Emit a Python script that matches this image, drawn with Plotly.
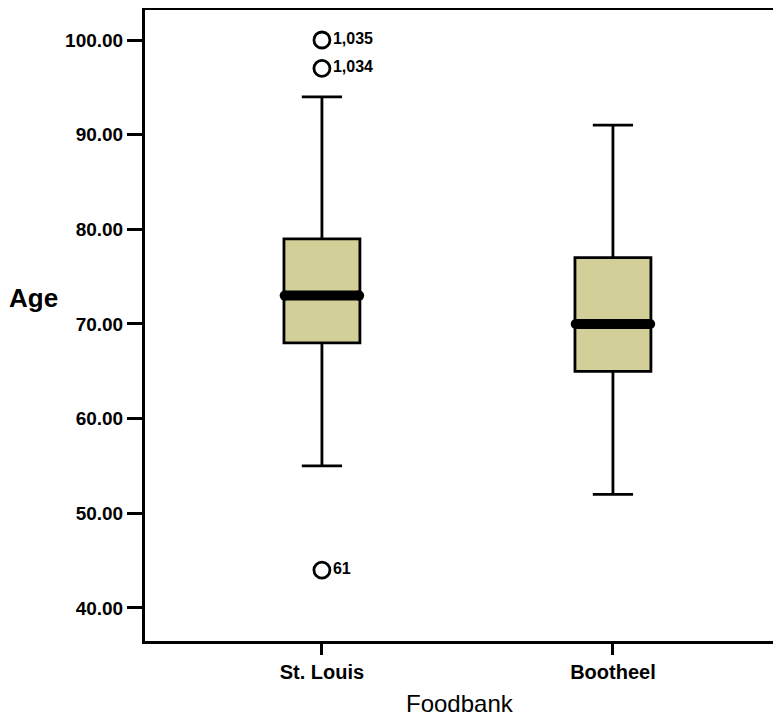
import plotly.graph_objects as go

categories = ["St. Louis", "Bootheel"]
q1 = [68, 65]
median = [73, 70]
q3 = [79, 77]
lower_whisker = [55, 52]
upper_whisker = [94, 91]

outlier_group = [0, 0, 0]
outlier_values = [100, 97, 44]
outlier_labels = ["1,035", "1,034", "61"]

y_ticks = [40, 50, 60, 70, 80, 90, 100]

FONT = "Liberation Sans, Arial, Helvetica, sans-serif"
FILL = "rgb(211,207,153)"

fig = go.Figure()

for i, name in enumerate(categories):
    fig.add_trace(go.Box(
        x=[i], q1=[q1[i]], median=[median[i]], q3=[q3[i]],
        lowerfence=[lower_whisker[i]], upperfence=[upper_whisker[i]],
        boxpoints=False, width=0.261, whiskerwidth=0.53,
        fillcolor=FILL, line=dict(color="black", width=2.8),
        hoverinfo="skip", showlegend=False, name=name,
    ))
    # thick median bar
    fig.add_trace(go.Scatter(
        x=[i - 0.128, i + 0.128], y=[median[i], median[i]],
        mode="lines+markers", line=dict(color="black", width=10),
        marker=dict(size=10, color="black"),
        hoverinfo="skip", showlegend=False,
    ))

fig.add_trace(go.Scatter(
    x=outlier_group, y=outlier_values, text=outlier_labels,
    mode="markers+text", textposition="middle right",
    marker=dict(symbol="circle-open", size=16, color="black", line=dict(width=2.8)),
    textfont=dict(family=FONT, size=16, color="black", weight="bold"),
    hoverinfo="skip", showlegend=False,
))

fig.update_layout(
    width=781, height=717,
    margin=dict(l=137, r=0, t=2, b=84),
    paper_bgcolor="white", plot_bgcolor="white",
    font=dict(family=FONT, color="black"),
    xaxis=dict(
        range=[-0.608, 1.605], tickvals=list(range(len(categories))), ticktext=categories,
        showline=True, linecolor="black", linewidth=3, mirror=True,
        ticks="outside", ticklen=11, tickwidth=3, tickcolor="black",
        showgrid=False, zeroline=False,
        tickfont=dict(family=FONT, size=20, color="black", weight="bold"),
    ),
    yaxis=dict(
        range=[36.51, 103.17], tickvals=y_ticks, tickformat=".2f",
        showline=True, linecolor="black", linewidth=3,
        ticks="outside", ticklen=15, tickwidth=3, tickcolor="black",
        showgrid=False, zeroline=False,
        tickfont=dict(family=FONT, size=19, color="black", weight="bold"),
    ),
    annotations=[
        dict(
            text="Age", xref="paper", yref="paper", x=0, y=0.5436, xshift=-112,
            xanchor="center", yanchor="middle", showarrow=False,
            font=dict(family=FONT, size=26, color="black", weight="bold"),
        ),
        dict(
            text="Foodbank", xref="paper", yref="paper", x=0.489, y=-0.0983,
            xanchor="center", yanchor="middle", showarrow=False,
            font=dict(family=FONT, size=24, color="black"),
        ),
    ],
)

fig.write_html("out.html")
